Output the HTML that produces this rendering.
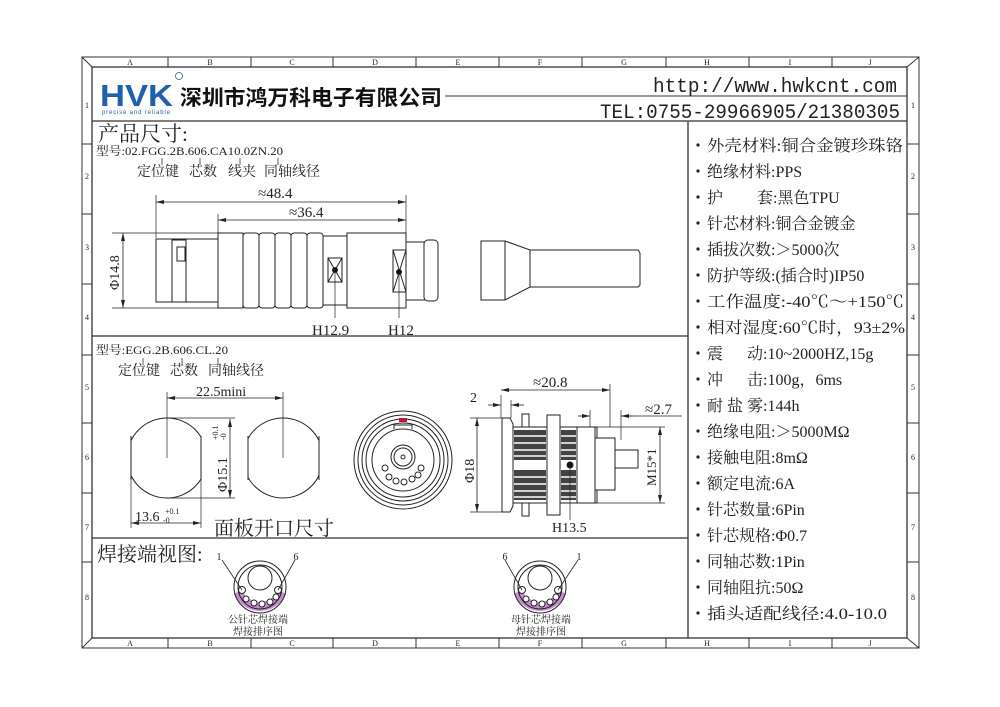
<!DOCTYPE html>
<html><head><meta charset="utf-8"><style>
html,body{margin:0;padding:0;background:#fff;}
svg{display:block;}
.s{font-family:"Liberation Serif","Noto Serif CJK SC",serif;fill:#222;}
.m{font-family:"Liberation Mono","Noto Serif CJK SC",monospace;fill:#222;}
.k{font-family:"Liberation Sans","Noto Sans CJK SC",sans-serif;}
</style></head><body>
<svg width="1000" height="707" viewBox="0 0 1000 707" xmlns="http://www.w3.org/2000/svg">
<defs>
<marker id="a" markerWidth="8" markerHeight="6" refX="8" refY="3" orient="auto-start-reverse" markerUnits="userSpaceOnUse"><path d="M0,1 L8,3 L0,5 Z" fill="#222"/></marker>
</defs>
<rect width="1000" height="707" fill="#fff"/>
<g stroke="#333" fill="none" stroke-width="1">
<rect x="82" y="57" width="837" height="591"/>
<rect x="92" y="67" width="815" height="571" stroke-width="1.3"/>
<line x1="82" y1="57" x2="92" y2="67"/><line x1="919" y1="57" x2="907" y2="67"/>
<line x1="82" y1="648" x2="92" y2="638"/><line x1="919" y1="648" x2="907" y2="638"/>
<path d="M168 57V67M251 57V67M333 57V67M416 57V67M499 57V67M582 57V67M666 57V67M749 57V67M832 57V67"/>
<path d="M168 638V648M251 638V648M333 638V648M416 638V648M499 638V648M582 638V648M666 638V648M749 638V648M832 638V648"/>
<path d="M82 144H92M82 214H92M82 284H92M82 355H92M82 423H92M82 493H92M82 562H92"/>
<path d="M907 144H919M907 214H919M907 284H919M907 355H919M907 423H919M907 493H919M907 562H919"/>
<line x1="92" y1="121" x2="907" y2="121" stroke-width="1.3"/>
<line x1="445" y1="96" x2="907" y2="96"/>
<line x1="688" y1="121" x2="688" y2="638" stroke-width="1.3"/>
<line x1="92" y1="336" x2="688" y2="336" stroke-width="1.3"/>
<line x1="92" y1="538" x2="688" y2="538" stroke-width="1.3"/>
</g>
<g class="s" font-size="8" text-anchor="middle">
<text x="130" y="65">A</text><text x="210" y="65">B</text><text x="292" y="65">C</text><text x="375" y="65">D</text><text x="458" y="65">E</text><text x="540" y="65">F</text><text x="624" y="65">G</text><text x="707" y="65">H</text><text x="790" y="65">I</text><text x="870" y="65">J</text>
<text x="130" y="646">A</text><text x="210" y="646">B</text><text x="292" y="646">C</text><text x="375" y="646">D</text><text x="458" y="646">E</text><text x="540" y="646">F</text><text x="624" y="646">G</text><text x="707" y="646">H</text><text x="790" y="646">I</text><text x="870" y="646">J</text>
<text x="87" y="108">1</text><text x="87" y="179">2</text><text x="87" y="250">3</text><text x="87" y="320">4</text><text x="87" y="390">5</text><text x="87" y="460">6</text><text x="87" y="530">7</text><text x="87" y="600">8</text>
<text x="913" y="108">1</text><text x="913" y="179">2</text><text x="913" y="250">3</text><text x="913" y="320">4</text><text x="913" y="390">5</text><text x="913" y="460">6</text><text x="913" y="530">7</text><text x="913" y="600">8</text>
</g>
<!-- header -->
<text class="k" x="100" y="106" font-size="31" font-weight="bold" fill="#1f5fae" textLength="73" lengthAdjust="spacingAndGlyphs">HVK</text>
<text class="k" x="102" y="114" font-size="6" fill="#1f5fae" textLength="68">precise and reliable</text>
<circle cx="179" cy="76" r="3.5" fill="none" stroke="#1f5fae" stroke-width="0.8"/>
<text class="k" x="180" y="105" font-size="21" font-weight="bold" fill="#111" textLength="262" lengthAdjust="spacingAndGlyphs">深圳市鸿万科电子有限公司</text>
<text class="m" x="653" y="92" font-size="20" textLength="244" lengthAdjust="spacingAndGlyphs">http://www.hwkcnt.com</text>
<text class="m" x="600" y="118" font-size="20" textLength="300" lengthAdjust="spacingAndGlyphs">TEL:0755-29966905/21380305</text>
<!-- spec list -->
<g class="s" font-size="16">
<g fill="#222"><circle cx="698" cy="145" r="1.6"/><circle cx="698" cy="171" r="1.6"/><circle cx="698" cy="197" r="1.6"/><circle cx="698" cy="223" r="1.6"/><circle cx="698" cy="249" r="1.6"/><circle cx="698" cy="275" r="1.6"/><circle cx="698" cy="301" r="1.6"/><circle cx="698" cy="327" r="1.6"/><circle cx="698" cy="353" r="1.6"/><circle cx="698" cy="379" r="1.6"/><circle cx="698" cy="405" r="1.6"/><circle cx="698" cy="431" r="1.6"/><circle cx="698" cy="457" r="1.6"/><circle cx="698" cy="483" r="1.6"/><circle cx="698" cy="509" r="1.6"/><circle cx="698" cy="535" r="1.6"/><circle cx="698" cy="561" r="1.6"/><circle cx="698" cy="587" r="1.6"/><circle cx="698" cy="613" r="1.6"/></g>
<text x="707" y="151" textLength="196" lengthAdjust="spacingAndGlyphs">外壳材料:铜合金镀珍珠铬</text>
<text x="707" y="177">绝缘材料:PPS</text>
<text x="707" y="203">护<tspan x="757">套:黑色TPU</tspan></text>
<text x="707" y="229">针芯材料:铜合金镀金</text>
<text x="707" y="255">插拔次数:＞5000次</text>
<text x="707" y="281">防护等级:(插合时)IP50</text>
<text x="707" y="307" textLength="197" lengthAdjust="spacingAndGlyphs">工作温度:-40℃～+150℃</text>
<text x="707" y="333" textLength="198" lengthAdjust="spacingAndGlyphs">相对湿度:60℃时，93±2%</text>
<text x="707" y="359">震<tspan x="747">动:10~2000HZ,15g</tspan></text>
<text x="707" y="385">冲<tspan x="747">击:100g，6ms</tspan></text>
<text x="707" y="411">耐 盐 雾:144h</text>
<text x="707" y="437">绝缘电阻:＞5000MΩ</text>
<text x="707" y="463">接触电阻:8mΩ</text>
<text x="707" y="489">额定电流:6A</text>
<text x="707" y="515">针芯数量:6Pin</text>
<text x="707" y="541">针芯规格:Φ0.7</text>
<text x="707" y="567">同轴芯数:1Pin</text>
<text x="707" y="593">同轴阻抗:50Ω</text>
<text x="707" y="619" textLength="180" lengthAdjust="spacingAndGlyphs">插头适配线径:4.0-10.0</text>
</g>
<!-- product dims -->
<g class="s">
<text x="98" y="141" font-size="21">产品尺寸:</text>
<text x="96" y="155" font-size="12" textLength="187" lengthAdjust="spacingAndGlyphs">型号:02.FGG.2B.606.CA10.0ZN.20</text>
<text x="137" y="176" font-size="14">定位键</text><text x="189" y="176" font-size="14">芯数</text><text x="228" y="176" font-size="14">线夹</text><text x="264" y="176" font-size="14">同轴线径</text>
<text x="96" y="354" font-size="12" textLength="132" lengthAdjust="spacingAndGlyphs">型号:EGG.2B.606.CL.20</text>
<text x="118" y="375" font-size="14">定位键</text><text x="170" y="375" font-size="14">芯数</text><text x="208" y="375" font-size="14">同轴线径</text>
</g>
<g stroke="#333" stroke-width="0.8" fill="none">
<path d="M162 158V165M200 158V165M240 158V165M278 158V165"/>
<path d="M143 358V365M182 358V365M218 358V365"/>
</g>
<!-- plug drawing -->
<g stroke="#222" stroke-width="1" fill="#fff">
<line x1="156" y1="195" x2="156" y2="238" stroke-width="0.7"/>
<line x1="218" y1="214" x2="218" y2="233" stroke-width="0.7"/>
<line x1="406" y1="195" x2="406" y2="233" stroke-width="0.7"/>
<line x1="156" y1="202" x2="406" y2="202" stroke-width="0.8" marker-start="url(#a)" marker-end="url(#a)"/>
<line x1="218" y1="220" x2="406" y2="220" stroke-width="0.8" marker-start="url(#a)" marker-end="url(#a)"/>
<line x1="112" y1="233" x2="218" y2="233" stroke-width="0.7"/>
<line x1="112" y1="308" x2="218" y2="308" stroke-width="0.7"/>
<line x1="123" y1="233" x2="123" y2="308" stroke-width="0.8" marker-start="url(#a)" marker-end="url(#a)"/>
<rect x="156" y="239" width="62" height="63"/>
<rect x="172" y="240" width="14" height="62"/>
<rect x="177" y="247" width="8" height="14"/>
<rect x="218" y="233" width="25" height="75"/>
<rect x="243" y="233" width="16" height="75" rx="3"/>
<rect x="259" y="233" width="16" height="75" rx="3"/>
<rect x="275" y="233" width="16" height="75" rx="3"/>
<rect x="291" y="233" width="16" height="75" rx="3"/>
<rect x="307" y="233" width="16" height="75" rx="3"/>
<rect x="323" y="236" width="24" height="69"/>
<rect x="328" y="258" width="14" height="24"/>
<path d="M328 258L342 282M342 258L328 282"/>
<rect x="347" y="233" width="59" height="75"/>
<rect x="393" y="250" width="13" height="42"/>
<path d="M393 250L406 292M406 250L393 292"/>
<rect x="406" y="242" width="20" height="58"/>
<rect x="424" y="240" width="14" height="61" rx="4"/>
<path d="M481 241H505L530 250H638L640 253V285L638 287H530L505 300H481Z"/>
<line x1="505" y1="241" x2="505" y2="300"/>
<line x1="530" y1="250" x2="530" y2="287"/>
<circle cx="335" cy="270" r="2.5" fill="#111"/><circle cx="399" cy="272" r="2.5" fill="#111"/>
<path d="M335 270V318M399 272V318" stroke-width="0.7"/>
</g>
<g class="s" font-size="15">
<text x="258" y="198">≈48.4</text><text x="289" y="217">≈36.4</text>
<text x="312" y="335">H12.9</text><text x="388" y="335">H12</text>
<text transform="translate(119,290) rotate(-90)" font-size="14">Φ14.8</text>
</g>
<!-- panel cutouts -->
<g stroke="#222" stroke-width="1" fill="none">
<clipPath id="c1"><rect x="131" y="410" width="70" height="100"/></clipPath>
<clipPath id="c2"><rect x="248" y="410" width="71" height="100"/></clipPath>
<circle cx="167" cy="458" r="40" clip-path="url(#c1)"/>
<line x1="131" y1="436" x2="131" y2="480"/><line x1="201" y1="436" x2="201" y2="480"/>
<circle cx="283" cy="458" r="40" clip-path="url(#c2)"/>
<line x1="248" y1="436" x2="248" y2="480"/><line x1="319" y1="436" x2="319" y2="480"/>
<path d="M167 392V458M283 392V458" stroke-width="0.7"/>
<line x1="167" y1="398" x2="283" y2="398" stroke-width="0.8" marker-start="url(#a)" marker-end="url(#a)"/>
<path d="M167 418H235M167 498H235" stroke-width="0.7"/>
<line x1="230" y1="419" x2="230" y2="498" stroke-width="0.8" marker-start="url(#a)" marker-end="url(#a)"/>
<path d="M131 480V528M201 480V528" stroke-width="0.7"/>
<line x1="131" y1="523" x2="201" y2="523" stroke-width="0.8" marker-start="url(#a)" marker-end="url(#a)"/>
</g>
<g class="s">
<text x="196" y="396" font-size="14">22.5mini</text>
<text transform="translate(227,492) rotate(-90)" font-size="14">Φ15.1</text>
<text transform="translate(218,440) rotate(-90)" font-size="8">+0.1</text>
<text transform="translate(226,440) rotate(-90)" font-size="8">-0</text>
<text x="135" y="521" font-size="14">13.6</text><text x="165" y="514" font-size="8">+0.1</text><text x="163" y="523" font-size="8">-0</text>
<text x="214" y="535" font-size="20">面板开口尺寸</text>
</g>
<!-- front view -->
<g stroke="#222" stroke-width="1" fill="none">
<circle cx="403" cy="460" r="49"/><circle cx="403" cy="460" r="45"/><circle cx="403" cy="460" r="41"/><circle cx="403" cy="460" r="37"/><circle cx="403" cy="460" r="31"/>
<rect x="399" y="418" width="8" height="4" fill="#c0143c" stroke="none"/>
<path d="M394 429V425H412V429"/>
<circle cx="403" cy="457" r="12"/><circle cx="403" cy="457" r="9"/><circle cx="403" cy="457" r="2"/>
<circle cx="385" cy="468" r="3"/><circle cx="421" cy="468" r="3"/><circle cx="389" cy="477" r="3"/><circle cx="396" cy="481" r="3"/><circle cx="404" cy="482" r="3"/><circle cx="412" cy="479" r="3"/><circle cx="418" cy="475" r="3"/>
</g>
<!-- side view -->
<g stroke="#222" stroke-width="1" fill="#fff">
<path d="M470 418H502M470 512H502M501 395V418M511 400V418M610 384V427M590 410V427M621 410V440M595 427H665M595 503H665" fill="none" stroke-width="0.7"/>
<line x1="477" y1="418" x2="477" y2="512" stroke-width="0.8" marker-start="url(#a)" marker-end="url(#a)"/>
<line x1="501" y1="390" x2="610" y2="390" stroke-width="0.8" marker-start="url(#a)" marker-end="url(#a)"/>
<line x1="488" y1="405" x2="501" y2="405" stroke-width="0.8" marker-end="url(#a)"/>
<line x1="524" y1="405" x2="511" y2="405" stroke-width="0.8" marker-end="url(#a)"/>
<line x1="578" y1="416" x2="590" y2="416" stroke-width="0.8" marker-end="url(#a)"/>
<line x1="633" y1="416" x2="621" y2="416" stroke-width="0.8" marker-end="url(#a)"/>
<line x1="621" y1="416" x2="682" y2="416" stroke-width="0.7"/>
<line x1="660" y1="427" x2="660" y2="503" stroke-width="0.8" marker-start="url(#a)" marker-end="url(#a)"/>
<path d="M502 418H510L513 424V506L510 512H502Z"/>
<rect x="522" y="414" width="7" height="102"/>
<rect x="513" y="427" width="84" height="76"/>
<rect x="547" y="415" width="13" height="100"/>
<rect x="577" y="427" width="18" height="76"/>
<rect x="595" y="438" width="20" height="52"/>
<rect x="615" y="450" width="23" height="18"/>
<g fill="#222" stroke="none">
<rect x="514" y="430" width="32" height="30" opacity="0.85"/><rect x="514" y="470" width="32" height="30" opacity="0.85"/>
<rect x="561" y="430" width="15" height="30" opacity="0.85"/><rect x="561" y="470" width="15" height="30" opacity="0.85"/>
</g>
<g stroke="#fff" stroke-width="1.5">
<path d="M514 436H546M514 443H546M514 450H546M514 456H546M514 477H546M514 484H546M514 491H546M514 497H546"/>
<path d="M561 436H576M561 443H576M561 450H576M561 456H576M561 477H576M561 484H576M561 491H576M561 497H576"/>
</g>
<circle cx="570" cy="465" r="3" fill="#111"/>
<path d="M570 465V520" stroke-width="0.7" fill="none"/>
</g>
<g class="s">
<text x="533" y="387" font-size="15">≈20.8</text>
<text x="470" y="402" font-size="14">2</text>
<text x="645" y="414" font-size="15">≈2.7</text>
<text transform="translate(474,483) rotate(-90)" font-size="14">Φ18</text>
<text transform="translate(656,486) rotate(-90)" font-size="13">M15*1</text>
<text x="552" y="532" font-size="14">H13.5</text>
</g>
<!-- welding -->
<text class="s" x="97" y="561" font-size="20">焊接端视图:</text>
<g stroke="#222" stroke-width="1" fill="none">
<path d="M238 592A24 24 0 0 0 282 592" stroke="#c58ccf" stroke-width="9"/>
<circle cx="260" cy="587" r="26"/><circle cx="260" cy="587" r="22"/>
<circle cx="260" cy="578" r="12"/>
<circle cx="242" cy="590" r="3.5" fill="#fff"/><circle cx="278" cy="590" r="3.5" fill="#fff"/><circle cx="246" cy="599" r="3" fill="#fff"/><circle cx="254" cy="603" r="3" fill="#fff"/><circle cx="262" cy="604" r="3" fill="#fff"/><circle cx="270" cy="602" r="3" fill="#fff"/><circle cx="276" cy="597" r="3" fill="#fff"/>
<path d="M222 560L242 590M295 560L278 590" stroke-width="0.8"/>
<path d="M518 592A24 24 0 0 0 562 592" stroke="#c58ccf" stroke-width="9"/>
<circle cx="540" cy="587" r="26"/><circle cx="540" cy="587" r="22"/>
<circle cx="540" cy="578" r="12"/>
<circle cx="522" cy="590" r="3.5" fill="#fff"/><circle cx="558" cy="590" r="3.5" fill="#fff"/><circle cx="526" cy="599" r="3" fill="#fff"/><circle cx="534" cy="603" r="3" fill="#fff"/><circle cx="542" cy="604" r="3" fill="#fff"/><circle cx="550" cy="602" r="3" fill="#fff"/><circle cx="556" cy="597" r="3" fill="#fff"/>
<path d="M505 560L522 590M578 560L558 590" stroke-width="0.8"/>
</g>
<g class="s" font-size="10" text-anchor="middle">
<text x="219" y="560">1</text><text x="296" y="560">6</text>
<text x="505" y="560">6</text><text x="579" y="560">1</text>
<text x="258" y="623">公针芯焊接端</text><text x="258" y="635">焊接排序图</text>
<text x="541" y="623">母针芯焊接端</text><text x="541" y="635">焊接排序图</text>
</g>
</svg>
</body></html>
